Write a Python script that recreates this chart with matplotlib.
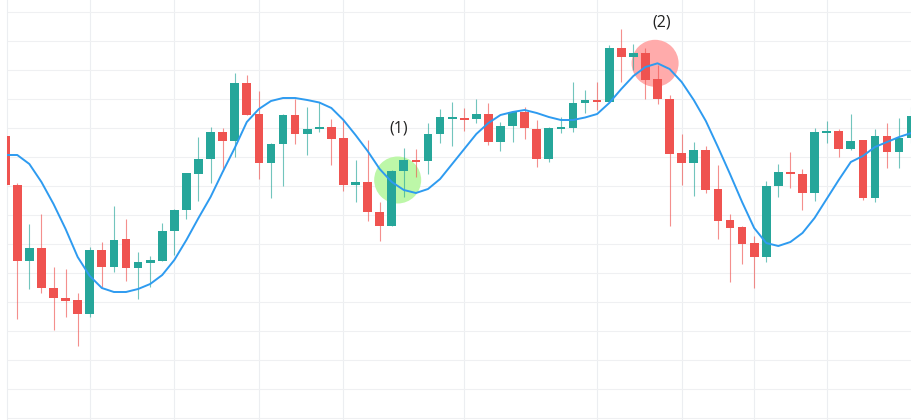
import numpy as np
import matplotlib
matplotlib.use("Agg")
import matplotlib.pyplot as plt
from matplotlib.patches import Rectangle

# ---- data (price units) ----
opens = [284, 235, 159, 172, 132, 122, 120, 106, 170, 153, 181, 152, 157, 159, 189, 210,
         246, 261, 288, 279, 337, 306, 257, 276, 305, 286, 291, 293, 282, 235, 238, 208,
         194, 249, 260, 259, 286, 301.5, 302, 301, 306, 278, 294, 308, 291, 261, 291.3, 292,
         317, 320, 318, 372, 363, 367, 341, 321, 267, 257, 270, 231, 200, 193, 177, 163,
         234, 248, 246, 227, 288, 289, 271, 280, 222, 284, 268, 282]
highs = [284, 237, 196, 206, 153, 151, 127, 173, 178, 214, 201, 168, 164, 197, 211, 247,
         283, 293, 292, 347, 345, 329, 277, 306, 321, 313, 318, 301, 300, 260, 280, 218,
         250, 272, 271, 297, 311, 318, 312, 321, 317, 298, 309, 313, 300, 293, 303, 338,
         330, 338, 375, 391, 376, 372, 355, 325, 286, 278, 274, 255, 206, 194, 184, 239,
         256, 268, 251, 292, 299, 291, 306, 280, 291, 297, 302, 313]
lows = [235, 101, 131, 127, 90, 103, 74, 103, 133, 148, 139, 121, 133, 159, 165, 201,
        219, 237, 249, 263, 305, 241, 222, 234, 276, 265, 288, 255, 229, 218, 199, 179,
        194, 223, 243, 246, 277, 274, 289, 297, 275, 269, 278, 281, 253, 258, 287, 288,
        307, 310, 318, 338, 350, 321, 316, 194, 235, 224, 227, 181, 138, 156, 132, 158,
        223, 232, 210, 219, 277, 263, 270, 220, 218, 252, 252, 277]
closes = [235, 159, 172, 132, 122, 119, 106, 170, 153, 180, 152, 158, 160, 189, 210, 247,
          261, 288, 279, 337, 305, 257, 276, 305, 286, 291, 293, 281, 235, 238, 208, 194,
          249, 260, 259, 286, 303, 302.5, 301, 306, 278, 294, 308, 292, 261, 292, 292.7, 317,
          320, 318, 372, 363, 367, 340, 321, 266, 257, 270, 230, 199, 192, 176, 163, 234,
          248, 246, 227, 288, 289, 271, 279, 222, 284, 268, 282, 304]
ma = [265, 265, 256, 238, 216, 191, 163, 144, 132, 128, 128, 131, 136, 145, 160, 180,
      202, 223, 248, 272, 298, 311, 319, 322, 322, 320, 317.5, 312, 300, 285, 269, 251,
      238, 230, 227, 231, 241, 256, 271, 286, 297, 305, 308, 310, 307, 303, 300, 300,
      302.5, 306, 317, 331, 344, 353, 356.7, 351, 338, 320, 299, 273, 246, 218, 192, 177,
      174, 178, 187, 202, 221, 240, 258, 264, 273, 278, 283, 287]
vgrid_idx = [7, 14, 21, 28, 38, 49, 56, 62, 68]
labels = ["(1)", "(2)"]
label_x = [32.6, 54.35]
label_y = [291.7, 397.3]
circle_x = [32.49, 53.8]
circle_y = [240, 356.7]
circle_colors = ["#bdf7a8", "#ffabab"]

UP = "#26a69a"
DOWN = "#ef5350"

fig = plt.figure(figsize=(9.12, 4.2), dpi=100)
ax = fig.add_axes([7.5 / 912, 0, 1 - 7.5 / 912, 1])

x = np.arange(len(opens))
ax.set_xlim((7.5 - 5.2) / 12.08, (912 - 5.2) / 12.08)
ax.set_ylim(0, 420)

# grid
for v in vgrid_idx:
    ax.axvline(v, color="#eceef1", lw=0.8, zorder=0)
for h in np.arange(1.7, 420, 29.0):
    ax.axhline(h, color="#eff0f2", lw=0.8, zorder=0)

# highlight circles (drawn in display space so they stay round)
ax.scatter(circle_x, circle_y, s=(47 * 0.72) ** 2, c=circle_colors, edgecolors="none", zorder=1)

bw = 0.72
for i in range(len(opens)):
    o, h, l, c = opens[i], highs[i], lows[i], closes[i]
    col = UP if c >= o else DOWN
    ax.plot([x[i], x[i]], [l, h], color=col, alpha=0.65, lw=0.8, zorder=2, solid_capstyle="butt")
    lo = min(o, c)
    hgt = max(abs(c - o), 2.0)
    if abs(c - o) < 2.0:
        lo = (o + c) / 2 - 1.0
    ax.add_patch(Rectangle((x[i] - bw / 2, lo), bw, hgt, facecolor=col, edgecolor="none", zorder=3))

ax.plot(x, ma, color="#2e9bf0", lw=1.4, zorder=4)

for t, tx, ty in zip(labels, label_x, label_y):
    ax.text(tx, ty, t, ha="center", va="center", fontsize=11.5, color="#222222",
            family=["Open Sans", "DejaVu Sans"], zorder=5)

ax.set_xticks([])
ax.set_yticks([])
for s in ["top", "right", "bottom"]:
    ax.spines[s].set_visible(False)
ax.spines["left"].set_color("#eceef1")
ax.spines["left"].set_linewidth(0.8)

fig.savefig("out.png", dpi=100)
